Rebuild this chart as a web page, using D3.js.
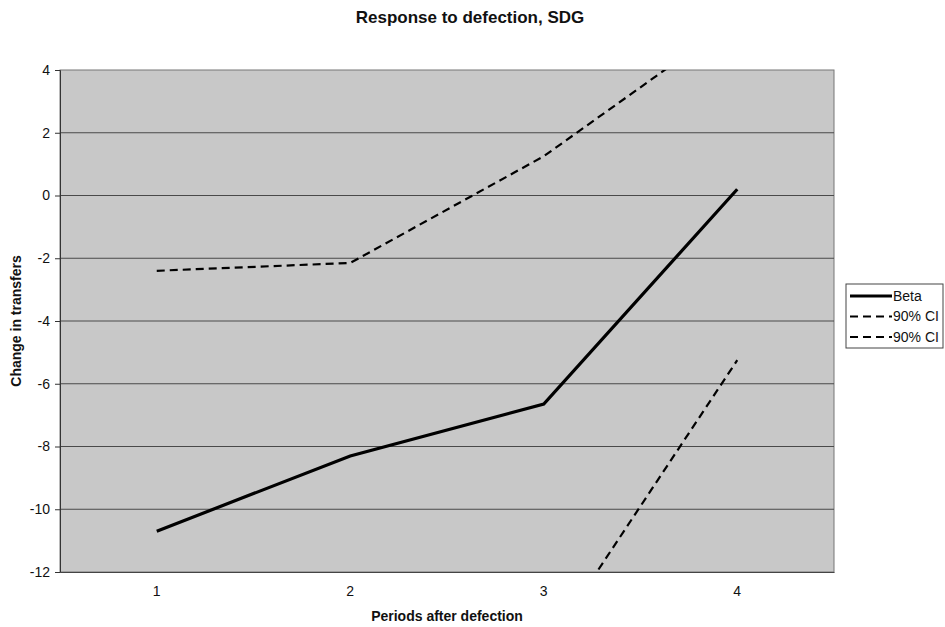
<!DOCTYPE html>
<html lang="en">
<head>
<meta charset="UTF-8">
<title>Response to defection, SDG</title>
<style>
  body { margin: 0; background: #fff; font-family: "Liberation Sans", Arial, sans-serif; }
  svg { display: block; }
</style>
</head>
<body>
<svg width="945" height="627"></svg>
<script src="https://cdn.jsdelivr.net/npm/d3@7/dist/d3.min.js"></script>
<script>
// Data

const periods = [1, 2, 3, 4];
const beta = [-10.7, -8.3, -6.65, 0.2];
const ciUpper = [-2.4, -2.15, 1.25, 5.65];
const ciLower = [-19.0, -14.45, -14.55, -5.25];
const yTicks = [-12, -10, -8, -6, -4, -2, 0, 2, 4];

const series = [
  { name: "Beta", values: beta, dash: null, width: 3.2 },
  { name: "90% CI", values: ciUpper, dash: "8,5", width: 2.2 },
  { name: "90% CI", values: ciLower, dash: "8,5", width: 2.2 }
];

// Layout

const plot = { left: 60, top: 70, right: 834, bottom: 572 };
const FONT = "Liberation Sans, Arial, sans-serif";

const svg = d3.select("svg");

const x = d3.scaleBand()
  .domain(periods)
  .range([plot.left, plot.right]);

const y = d3.scaleLinear()
  .domain([-12, 4])
  .range([plot.bottom, plot.top]);

// Plot background

svg.append("rect")
  .attr("x", plot.left)
  .attr("y", plot.top)
  .attr("width", plot.right - plot.left)
  .attr("height", plot.bottom - plot.top)
  .attr("fill", "#c8c8c8")
  .attr("stroke", "#777")
  .attr("stroke-width", 1);

// Gridlines

svg.append("g")
  .selectAll("line")
  .data(yTicks.filter(t => t > -12 && t < 4))
  .join("line")
    .attr("x1", plot.left)
    .attr("x2", plot.right)
    .attr("y1", d => y(d))
    .attr("y2", d => y(d))
    .attr("stroke", "#4a4a4a")
    .attr("stroke-width", 1);

// Axes

const yAxis = svg.append("g")
  .attr("transform", `translate(${plot.left},0)`)
  .call(d3.axisLeft(y).tickValues(yTicks).tickSize(5).tickPadding(5).tickFormat(d => String(d)));
yAxis.select(".domain").attr("stroke", "#333");
yAxis.selectAll(".tick line").attr("stroke", "#333");
yAxis.selectAll("text")
  .attr("font-size", 14)
  .attr("font-family", FONT)
  .attr("fill", "#111");

const xAxis = svg.append("g")
  .attr("transform", `translate(0,${plot.bottom})`)
  .call(d3.axisBottom(x).tickSize(0).tickPadding(14));
xAxis.select(".domain").attr("stroke", "#444");
xAxis.selectAll("text")
  .attr("font-size", 14)
  .attr("font-family", FONT)
  .attr("fill", "#111");

// Lines

svg.append("clipPath").attr("id", "plot-clip")
  .append("rect")
    .attr("x", plot.left)
    .attr("y", plot.top)
    .attr("width", plot.right - plot.left)
    .attr("height", plot.bottom - plot.top);

const line = d3.line()
  .x((d, i) => x(periods[i]) + x.bandwidth() / 2)
  .y(d => y(d));

svg.append("g")
  .attr("clip-path", "url(#plot-clip)")
  .selectAll("path")
  .data(series)
  .join("path")
    .attr("d", d => line(d.values))
    .attr("fill", "none")
    .attr("stroke", "#000")
    .attr("stroke-width", d => d.width)
    .attr("stroke-dasharray", d => d.dash);

// Titles

svg.append("text")
  .attr("x", 470)
  .attr("y", 23)
  .attr("text-anchor", "middle")
  .attr("font-size", 17)
  .attr("font-weight", "bold")
  .attr("fill", "#111")
  .text("Response to defection, SDG");

svg.append("text")
  .attr("x", (plot.left + plot.right) / 2)
  .attr("y", 621)
  .attr("text-anchor", "middle")
  .attr("font-size", 14)
  .attr("font-weight", "bold")
  .attr("fill", "#111")
  .text("Periods after defection");

svg.append("text")
  .attr("transform", `translate(21,${(plot.top + plot.bottom) / 2}) rotate(-90)`)
  .attr("text-anchor", "middle")
  .attr("font-size", 14)
  .attr("font-weight", "bold")
  .attr("fill", "#111")
  .text("Change in transfers");

// Legend

const legend = svg.append("g").attr("transform", "translate(846,284)");

legend.append("rect")
  .attr("width", 97)
  .attr("height", 64)
  .attr("fill", "#fff")
  .attr("stroke", "#444");

const item = legend.selectAll("g")
  .data(series)
  .join("g")
    .attr("transform", (d, i) => `translate(0,${12 + i * 20.5})`);

item.append("line")
  .attr("x1", 4)
  .attr("x2", 46)
  .attr("stroke", "#000")
  .attr("stroke-width", d => d.width)
  .attr("stroke-dasharray", d => d.dash);

item.append("text")
  .attr("x", 47)
  .attr("dy", "0.35em")
  .attr("font-size", 14)
  .attr("fill", "#111")
  .text(d => d.name);
</script>
</body>
</html>
